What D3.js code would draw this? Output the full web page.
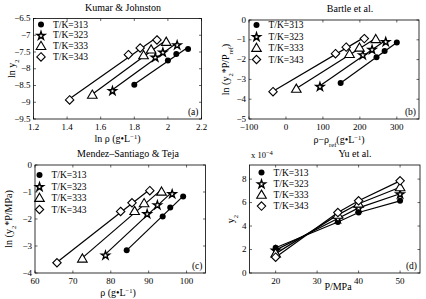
<!DOCTYPE html>
<html>
<head>
<meta charset="utf-8">
<script src="https://cdn.jsdelivr.net/npm/d3@7"></script>
<style>
  body { margin: 0; background: #fff; }
  svg text { font-family: "Liberation Serif", "Times New Roman", "DejaVu Serif", serif; }
</style>
</head>
<body>
<div id="chart"></div>
<script>
// temperatures (legend)
const temps = [313, 323, 333, 343];

// (a) Kumar & Johnston : ln rho vs ln y2
const kjX = [[1.80, 2.00, 2.05, 2.12], [1.67, 1.925, 1.97, 2.055], [1.55, 1.855, 1.90, 1.99], [1.415, 1.765, 1.835, 1.935]];
const kjY = [[-8.48, -7.75, -7.56, -7.41], [-8.65, -7.65, -7.50, -7.28], [-8.78, -7.60, -7.43, -7.20], [-8.93, -7.58, -7.38, -7.14]];

// (b) Bartle et al. : rho - rho_ref vs ln(y2 P / Pref)
const bX = [[148, 245, 267, 300], [92, 208, 233, 270], [28, 172, 199, 243], [-35, 134, 163, 212]];
const bY = [[-3.18, -1.88, -1.57, -1.14], [-3.35, -1.75, -1.48, -1.08], [-3.48, -1.72, -1.40, -0.97], [-3.62, -1.70, -1.37, -0.94]];

// (c) Mendez-Santiago & Teja : rho vs ln(y2 P / MPa)
const cX = [[84.2, 93.7, 95.7, 99.1], [78.6, 89.6, 92.3, 96.2], [72.5, 86.3, 88.8, 93.4], [65.8, 82.6, 85.6, 90.3]];
const cY = [[-3.16, -1.91, -1.57, -1.17], [-3.33, -1.80, -1.47, -1.06], [-3.47, -1.71, -1.42, -0.99], [-3.62, -1.72, -1.40, -0.95]];

// (d) Yu et al. : P vs y2 (x 1e-4)
const dX = [20, 35, 40, 50];
const dY = [[2.15, 4.35, 5.15, 6.15], [1.95, 4.65, 5.55, 6.75], [1.65, 4.95, 5.9, 7.3], [1.35, 5.15, 6.15, 7.85]];

const W = 426, H = 299;
const svg = d3.select("#chart").append("svg")
    .attr("width", W).attr("height", H)
    .attr("viewBox", `0 0 ${W} ${H}`)
    .attr("font-family", "Liberation Serif, Times New Roman, serif");

const minus = s => String(s).replace("-", "\u2212");

// marker shapes: filled circle, star, triangle, diamond
function drawMarker(g, k, x, y) {
    if (k === 0) {
        g.append("circle").attr("cx", x).attr("cy", y).attr("r", 3).attr("fill", "#000");
    } else if (k === 1) {
        g.append("path").attr("d", d3.symbol(d3.symbolStar, 20)())
            .attr("transform", `translate(${x},${y + 0.5})`)
            .attr("fill", "#fff").attr("stroke", "#000").attr("stroke-width", 1.4);
    } else if (k === 2) {
        g.append("path").attr("d", `M0,-4.8L4.8,3.4L-4.8,3.4Z`)
            .attr("transform", `translate(${x},${y})`)
            .attr("fill", "#fff").attr("stroke", "#000").attr("stroke-width", 1.1);
    } else {
        g.append("path").attr("d", `M0,-4.2L4.2,0L0,4.2L-4.2,0Z`)
            .attr("transform", `translate(${x},${y})`)
            .attr("fill", "#fff").attr("stroke", "#000").attr("stroke-width", 1.1);
    }
}

function panel(cfg) {
    const x = d3.scaleLinear().domain(cfg.xd).range([cfg.l, cfg.r]);
    const y = d3.scaleLinear().domain(cfg.yd).range([cfg.b, cfg.t]);
    const g = svg.append("g");

    // box
    g.append("rect").attr("x", cfg.l).attr("y", cfg.t)
        .attr("width", cfg.r - cfg.l).attr("height", cfg.b - cfg.t)
        .attr("fill", "none").attr("stroke", "#000").attr("stroke-width", 0.8);

    // ticks (inside, on all sides)
    cfg.xt.forEach(v => {
        const px = x(v);
        g.append("line").attr("x1", px).attr("x2", px).attr("y1", cfg.b).attr("y2", cfg.b - 2.5).attr("stroke", "#000").attr("stroke-width", 0.6);
        g.append("line").attr("x1", px).attr("x2", px).attr("y1", cfg.t).attr("y2", cfg.t + 2.5).attr("stroke", "#000").attr("stroke-width", 0.6);
        g.append("text").attr("x", px).attr("y", cfg.b + 11).attr("text-anchor", "middle")
            .style("font-size", "9px").text(minus(v));
    });
    cfg.yt.forEach(v => {
        const py = y(v);
        g.append("line").attr("x1", cfg.l).attr("x2", cfg.l + 2.5).attr("y1", py).attr("y2", py).attr("stroke", "#000").attr("stroke-width", 0.6);
        g.append("line").attr("x1", cfg.r).attr("x2", cfg.r - 2.5).attr("y1", py).attr("y2", py).attr("stroke", "#000").attr("stroke-width", 0.6);
        g.append("text").attr("x", cfg.l - 3).attr("y", py + 2.5).attr("text-anchor", "end")
            .style("font-size", "9px").text(minus(v));
    });

    // lines
    cfg.xs.forEach((xs, k) => {
        const ys = cfg.ys[k];
        if (cfg.fit) {
            const mx = d3.mean(xs), my = d3.mean(ys);
            const slope = d3.sum(xs, (v, i) => (v - mx) * (ys[i] - my)) / d3.sum(xs, v => (v - mx) * (v - mx));
            const x0 = d3.min(xs), x1 = d3.max(xs);
            g.append("line")
                .attr("x1", x(x0)).attr("y1", y(my + slope * (x0 - mx)))
                .attr("x2", x(x1)).attr("y2", y(my + slope * (x1 - mx)))
                .attr("stroke", "#000").attr("stroke-width", 1.2);
        } else {
            g.append("path").datum(xs.map((v, i) => [v, ys[i]]))
                .attr("d", d3.line().x(d => x(d[0])).y(d => y(d[1])))
                .attr("fill", "none").attr("stroke", "#000").attr("stroke-width", 1.2);
        }
    });
    // markers
    cfg.xs.forEach((xs, k) => {
        xs.forEach((v, i) => drawMarker(g, k, x(v), y(cfg.ys[k][i])));
    });

    // legend
    temps.forEach((t, k) => {
        const ly = cfg.leg.y + k * cfg.leg.dy;
        drawMarker(g, k, cfg.leg.x, ly);
        g.append("text").attr("x", cfg.leg.x + 12).attr("y", ly + 3)
            .style("font-size", "9.5px").text(`T/K=${t}`);
    });

    // title, panel tag
    g.append("text").attr("x", cfg.title[1]).attr("y", cfg.title[2]).attr("text-anchor", "middle")
        .style("font-size", "10px").text(cfg.title[0]);
    g.append("text").attr("x", cfg.r - 3).attr("y", cfg.b - 4).attr("text-anchor", "end")
        .style("font-size", "9.5px").text(cfg.tag);

    // axis labels
    const xl = g.append("text").attr("x", cfg.xlx || (cfg.l + cfg.r) / 2).attr("y", cfg.xly)
        .attr("text-anchor", "middle").style("font-size", "10px");
    cfg.xlab(xl);
    const yl = g.append("text")
        .attr("transform", `translate(${cfg.ylx},${(cfg.t + cfg.b) / 2}) rotate(-90)`)
        .attr("text-anchor", "middle").style("font-size", "10px");
    cfg.ylab(yl);
    return { x, y, g };
}

const sub = (el, s) => el.append("tspan").attr("baseline-shift", "sub").style("font-size", "6.5px").text(s);
const sup = (el, s) => el.append("tspan").attr("baseline-shift", "super").style("font-size", "6.5px").text(s);
const plain = (el, s) => el.append("tspan").text(s);

panel({
    l: 33.5, r: 201.5, t: 18.5, b: 119,
    xd: [1.2, 2.2], yd: [-9.5, -6.5],
    xt: [1.2, 1.4, 1.6, 1.8, 2, 2.2], yt: [-9.5, -9, -8.5, -8, -7.5, -7, -6.5],
    xs: kjX, ys: kjY, fit: true,
    leg: { x: 41, y: 24.5, dy: 10.8 },
    title: ["Kumar & Johnston", 123, 10.5], tag: "(a)",
    xly: 142, ylx: 15,
    xlab: el => { plain(el, "ln \u03c1 (g\u2022L"); sup(el, "\u22121"); plain(el, ")"); },
    ylab: el => { plain(el, "ln y"); sub(el, "2"); }
});

panel({
    l: 249, r: 419, t: 20, b: 119,
    xd: [-100, 360], yd: [-5, 0],
    xt: [-100, 0, 100, 200, 300], yt: [-5, -4, -3, -2, -1, 0],
    xs: bX, ys: bY, fit: true,
    leg: { x: 256.5, y: 25, dy: 11.5 },
    title: ["Bartle et al.", 350, 12], tag: "(b)",
    xly: 143, xlx: 339, ylx: 229,
    xlab: el => { plain(el, "\u03c1\u2212\u03c1"); sub(el, "ref"); plain(el, "(g\u2022L"); sup(el, "\u22121"); plain(el, ")"); },
    ylab: el => { plain(el, "ln (y"); sub(el, "2"); plain(el, "*P/P"); sub(el, "ref"); plain(el, ")"); }
});

panel({
    l: 35, r: 205.5, t: 165, b: 273,
    xd: [60, 105], yd: [-4, 0],
    xt: [60, 70, 80, 90, 100], yt: [-4, -3, -2, -1, 0],
    xs: cX, ys: cY, fit: true,
    leg: { x: 39.5, y: 175, dy: 11.5 },
    title: ["Mendez\u2013Santiago & Teja", 128, 157], tag: "(c)",
    xly: 296, xlx: 118, ylx: 12,
    xlab: el => { plain(el, "\u03c1 (g\u2022L"); sup(el, "\u22121"); plain(el, ")"); },
    ylab: el => { plain(el, "ln (y"); sub(el, "2"); plain(el, "*P/MPa)"); }
});

const pd = panel({
    l: 249.5, r: 420, t: 165, b: 273,
    xd: [13.7, 54.8], yd: [0, 9.2],
    xt: [20, 30, 40, 50], yt: [0, 2, 4, 6, 8],
    xs: temps.map(() => dX), ys: dY, fit: false,
    leg: { x: 261.5, y: 172.5, dy: 11.2 },
    title: ["Yu et al.", 355, 156.5], tag: "(d)",
    xly: 290, xlx: 338, ylx: 234,
    xlab: el => { plain(el, "P/MPa"); },
    ylab: el => { plain(el, "y"); sub(el, "2"); }
});
const ex = pd.g.append("text").attr("x", 251).attr("y", 158).style("font-size", "8.5px");
plain(ex, "x 10"); sup(ex, "\u22124");
</script>
</body>
</html>
